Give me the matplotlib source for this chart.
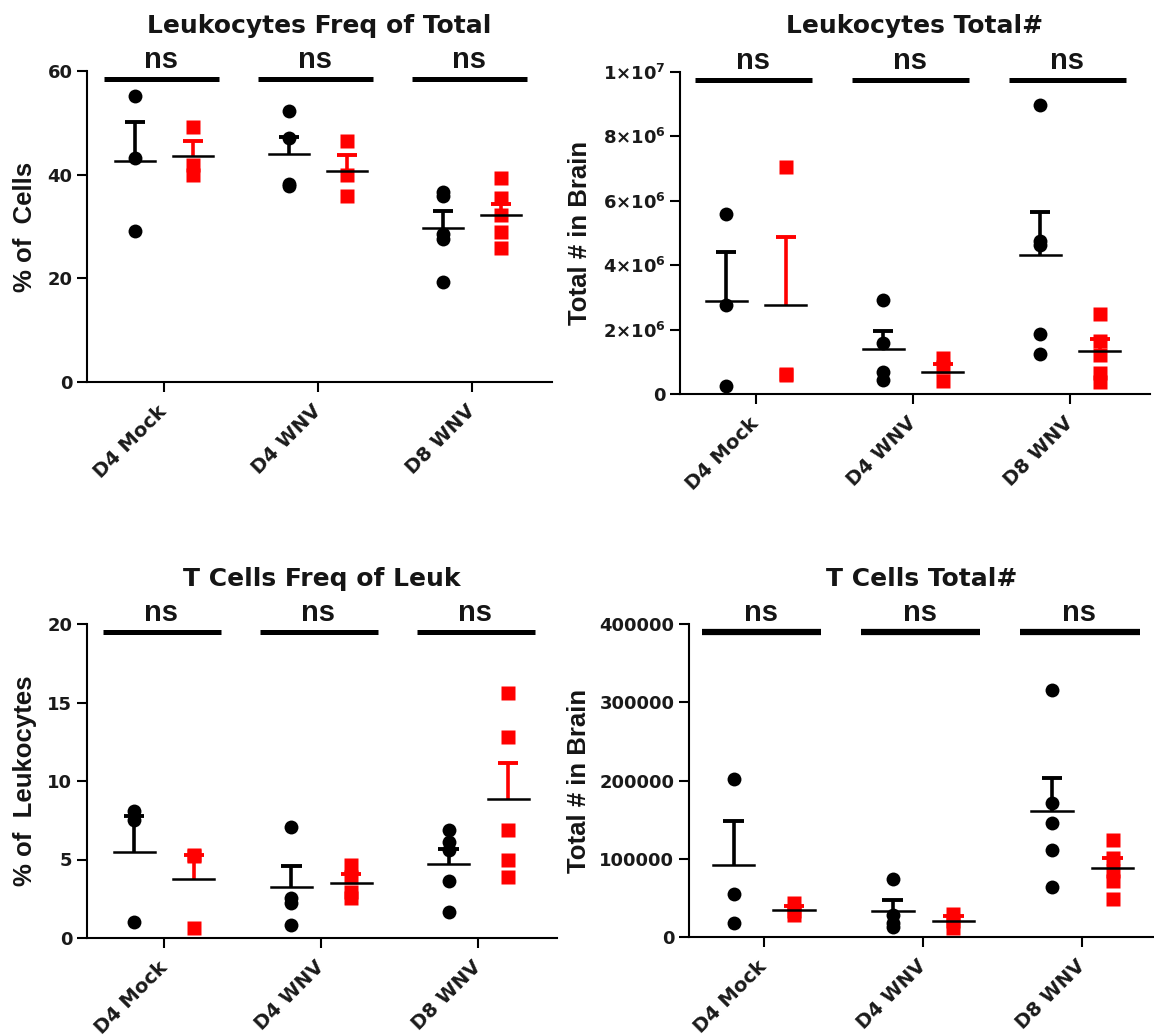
import matplotlib
matplotlib.use("Agg")
import matplotlib.pyplot as plt
from matplotlib.ticker import FuncFormatter
from matplotlib.transforms import blended_transform_factory

plt.rcParams['font.family'] = ['DejaVu Sans']
plt.rcParams['font.weight'] = 'bold'
plt.rcParams['mathtext.fontset'] = 'custom'
plt.rcParams['mathtext.rm'] = 'DejaVu Sans:bold'
plt.rcParams['mathtext.bf'] = 'DejaVu Sans:bold'

groups = ['D4 Mock', 'D4 WNV', 'D8 WNV']

# Leukocytes Freq of Total (%)
leuk_freq_black = [[55.2, 43.2, 29.2], [52.2, 47.0, 38.2, 37.8], [36.6, 35.8, 28.6, 27.6, 19.2]]
leuk_freq_black_mean = [42.6, 43.9, 29.7]
leuk_freq_black_sem = [7.6, 3.4, 3.2]
leuk_freq_red = [[49.2, 41.8, 40.0], [46.4, 40.0, 35.8], [39.3, 35.5, 32.2, 29.0, 25.8]]
leuk_freq_red_mean = [43.6, 40.7, 32.2]
leuk_freq_red_sem = [2.8, 3.1, 2.2]

# Leukocytes Total# (cells)
leuk_tot_black = [[5.6e6, 2.75e6, 0.26e6], [2.91e6, 1.59e6, 0.69e6, 0.42e6],
                  [8.97e6, 4.76e6, 4.62e6, 1.87e6, 1.24e6]]
leuk_tot_black_mean = [2.89e6, 1.40e6, 4.31e6]
leuk_tot_black_sem = [1.53e6, 0.56e6, 1.35e6]
leuk_tot_red = [[7.04e6, 0.63e6, 0.58e6], [1.12e6, 0.85e6, 0.40e6],
                [2.49e6, 1.65e6, 1.20e6, 0.65e6, 0.37e6]]
leuk_tot_red_mean = [2.75e6, 0.69e6, 1.35e6]
leuk_tot_red_sem = [2.14e6, 0.24e6, 0.37e6]

# T Cells Freq of Leuk (%)
t_freq_black = [[8.1, 7.5, 1.0], [7.1, 2.55, 2.2, 0.8], [6.9, 6.1, 5.6, 3.6, 1.65]]
t_freq_black_mean = [5.48, 3.23, 4.73]
t_freq_black_sem = [2.27, 1.33, 0.95]
t_freq_red = [[5.3, 5.2, 0.65], [4.65, 3.9, 2.9, 2.55], [15.6, 12.8, 6.9, 5.0, 3.9]]
t_freq_red_mean = [3.76, 3.5, 8.87]
t_freq_red_sem = [1.5, 0.6, 2.3]

# T Cells Total# (cells)
t_tot_black = [[202000, 55500, 18000], [74700, 27700, 18000, 12800],
               [315400, 170900, 145800, 111100, 64100]]
t_tot_black_mean = [92600, 33300, 161500]
t_tot_black_sem = [55400, 14500, 42300]
t_tot_red = [[44000, 33000, 28000], [30000, 20000, 12000],
             [124000, 100400, 84600, 71800, 48300]]
t_tot_red_mean = [34600, 20500, 88100]
t_tot_red_sem = [4500, 6400, 12300]

W, H = 1154, 1036
RED = '#ff0000'
INK = '#151515'
OFF = 0.19


def sci_fmt(v, pos):
    if v == 0:
        return '0'
    exp = len(str(int(round(v)))) - 1
    mant = int(round(v / 10 ** exp))
    return r'$%d{\times}10^{%d}$' % (mant, exp)


def panel(box, xlim, title, ylabel, ylab_x, ymax, ystep,
          blk, blk_mean, blk_sem, red, red_mean, red_sem, bar_lw=3.6, fmt=None):
    left, right, top, bottom = box
    ax = fig.add_axes([left / W, 1 - bottom / H, (right - left) / W, (bottom - top) / H])
    ax.set_xlim(*xlim)
    ax.set_ylim(0, ymax)

    for i in range(len(groups)):
        xb, xr = i - OFF, i + OFF
        ax.plot([xb] * len(blk[i]), blk[i], 'o', color='black', ms=10, mec='none', zorder=3)
        ax.plot([xr] * len(red[i]), red[i], 's', color=RED, ms=10.4, mec='none', zorder=3)
        # mean with upper SEM only
        for x, m, s, c in [(xb, blk_mean[i], blk_sem[i], 'black'), (xr, red_mean[i], red_sem[i], RED)]:
            ax.plot([x, x], [m, m + s], color=c, lw=2.6, zorder=4, solid_capstyle='butt')
            ax.plot([x - 0.065, x + 0.065], [m + s, m + s], color=c, lw=2.8, zorder=4,
                    solid_capstyle='butt')
            ax.plot([x - 0.13, x + 0.13], [m, m], color='black', lw=1.8, zorder=5)

    # significance bars
    tr = blended_transform_factory(ax.transData, ax.transAxes)
    for i in range(len(groups)):
        ax.plot([i - 0.39, i + 0.36], [0.975, 0.975], color='black', lw=bar_lw,
                transform=tr, clip_on=False, solid_capstyle='butt')
        ax.text(i - 0.02, 1.01, 'ns', transform=tr, ha='center', va='baseline',
                fontsize=21, fontweight='bold', color=INK, family='Liberation Sans')

    ax.text(0.5, 1.122, title, transform=ax.transAxes, ha='center', va='baseline',
            fontsize=18, fontweight='bold', color=INK)
    fig.text(ylab_x / W, 1 - (top + bottom) / 2 / H, ylabel, rotation=90,
             ha='center', va='center', fontsize=18.5, fontweight='bold', color=INK,
             family='Liberation Sans')

    ax.set_yticks(range(0, int(ymax) + 1, int(ystep)))
    if fmt is not None:
        ax.yaxis.set_major_formatter(FuncFormatter(fmt))
    ax.set_xticks(range(len(groups)))
    ax.set_xticklabels(groups, rotation=45, ha='right', va='center', rotation_mode='anchor')
    for sp in ['top', 'right']:
        ax.spines[sp].set_visible(False)
    for sp in ['left', 'bottom']:
        ax.spines[sp].set_linewidth(1.5)
    ax.tick_params(axis='both', length=7, width=1.5, labelsize=13, colors='black',
                   labelcolor='#1a1a1a')
    ax.tick_params(axis='x', pad=12, labelsize=14)
    ax.tick_params(axis='y', pad=3.5)
    return ax


fig = plt.figure(figsize=(W / 100, H / 100), dpi=100)

panel((87, 552, 71, 382), (-0.5, 2.52), 'Leukocytes Freq of Total', '% of  Cells', 25, 60, 20,
      leuk_freq_black, leuk_freq_black_mean, leuk_freq_black_sem,
      leuk_freq_red, leuk_freq_red_mean, leuk_freq_red_sem)
panel((680, 1150, 72, 394), (-0.484, 2.51), 'Leukocytes Total#', 'Total # in Brain', 580, 1e7, 2e6,
      leuk_tot_black, leuk_tot_black_mean, leuk_tot_black_sem,
      leuk_tot_red, leuk_tot_red_mean, leuk_tot_red_sem, fmt=sci_fmt)
panel((87, 557, 624, 938), (-0.49, 2.5), 'T Cells Freq of Leuk', '% of  Leukocytes', 25, 20, 5,
      t_freq_black, t_freq_black_mean, t_freq_black_sem,
      t_freq_red, t_freq_red_mean, t_freq_red_sem)
panel((689, 1154, 624, 937), (-0.47, 2.45), 'T Cells Total#', 'Total # in Brain', 579, 400000, 100000,
      t_tot_black, t_tot_black_mean, t_tot_black_sem,
      t_tot_red, t_tot_red_mean, t_tot_red_sem, bar_lw=4.5)

fig.savefig('out.png', dpi=100, facecolor='white')
